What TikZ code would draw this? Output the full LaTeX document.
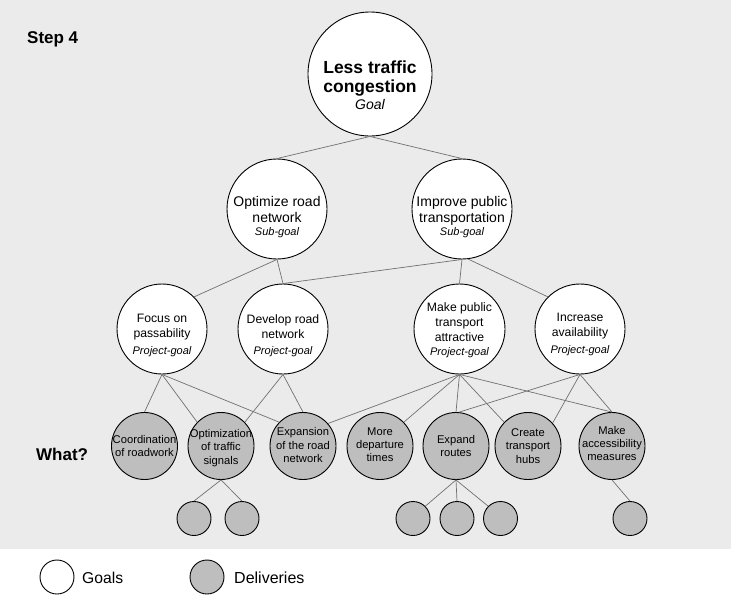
\documentclass[tikz,border=0pt]{standalone}
\usepackage{fontspec}
\setmainfont{Liberation Sans}
\usetikzlibrary{shapes.geometric}
\definecolor{bgc}{HTML}{EBEBEB}
\definecolor{delc}{HTML}{BEBEBE}
\definecolor{linec}{HTML}{707070}
\tikzset{
  goal/.style={ellipse, draw=black, line width=0.9pt, fill=white, inner sep=0pt},
  deliv/.style={ellipse, draw=black, line width=0.9pt, fill=delc, inner sep=0pt},
  conn/.style={draw=linec, line width=0.7pt},
  txt/.style={align=center, inner sep=0pt},
  ttop/.style={txt, font=\fontsize{17.5}{19.4}\selectfont},
  tsub/.style={txt, font=\fontsize{14}{16}\selectfont},
  tproj/.style={txt, font=\fontsize{12.2}{15}\selectfont},
  tdel/.style={txt, font=\fontsize{11.2}{13.3}\selectfont},
}
\newcommand{\gsub}[1]{{\fontsize{11}{11}\selectfont\itshape #1}}
\begin{document}
\begin{tikzpicture}[x=1pt,y=-1pt]
\useasboundingbox (0,0) rectangle (731,600);
\fill[bgc] (0,0) rectangle (731,549);

% goals
\node[goal, minimum width=124pt, minimum height=124pt] (top) at (370,74) {};
\node[goal, minimum width=100pt, minimum height=100pt] (opt) at (277,209) {};
\node[goal, minimum width=100pt, minimum height=100pt] (imp) at (462,209) {};
\node[goal, minimum width=90pt, minimum height=90pt] (focus) at (162,329) {};
\node[goal, minimum width=90pt, minimum height=90pt] (dev) at (283,329) {};
\node[goal, minimum width=91pt, minimum height=90pt] (make) at (459.5,329) {};
\node[goal, minimum width=90pt, minimum height=90pt] (inc) at (580,329) {};

% deliveries
\node[deliv, minimum width=66pt, minimum height=67pt] (coord) at (144.5,446) {};
\node[deliv, minimum width=66pt, minimum height=67pt] (optim) at (221,446) {};
\node[deliv, minimum width=66pt, minimum height=67pt] (expan) at (303,446) {};
\node[deliv, minimum width=66pt, minimum height=67pt] (more) at (380,446) {};
\node[deliv, minimum width=66pt, minimum height=67pt] (expand) at (456,446) {};
\node[deliv, minimum width=66pt, minimum height=67pt] (create) at (528,446) {};
\node[deliv, minimum width=66pt, minimum height=67pt] (access) at (612,446) {};

% small deliveries
\node[deliv, minimum width=34pt, minimum height=34pt] (s1) at (194,518.5) {};
\node[deliv, minimum width=34pt, minimum height=34pt] (s2) at (242,518.5) {};
\node[deliv, minimum width=34pt, minimum height=34pt] (s3) at (413,518.5) {};
\node[deliv, minimum width=34pt, minimum height=34pt] (s4) at (457,518.5) {};
\node[deliv, minimum width=34pt, minimum height=34pt] (s5) at (500.5,518.5) {};
\node[deliv, minimum width=34pt, minimum height=34pt] (s6) at (630,518.5) {};

% connectors
\path[conn] (top.south) -- (opt.north);
\path[conn] (top.south) -- (imp.north);
\path[conn] (opt.south) -- (focus.45);
\path[conn] (opt.south) -- (dev.north);
\path[conn] (imp.south) -- (dev.north);
\path[conn] (imp.south) -- (make.north);
\path[conn] (imp.-83) -- (inc.135);
\path[conn] (focus.south) -- (coord.north);
\path[conn] (focus.south) -- (optim.135);
\path[conn] (focus.south) -- (expan.135);
\path[conn] (dev.south) -- (optim.45);
\path[conn] (dev.south) -- (expan.north);
\path[conn] (make.south) -- (expan.42);
\path[conn] (make.south) -- (more.45);
\path[conn] (make.south) -- (expand.north);
\path[conn] (make.south) -- (create.135);
\path[conn] (make.south) -- (access.north);
\path[conn] (inc.south) -- (expand.85);
\path[conn] (inc.south) -- (create.43);
\path[conn] (inc.south) -- (access.north);
\path[conn] (optim.south) -- (s1.north);
\path[conn] (optim.south) -- (s2.north);
\path[conn] (expand.south) -- (s3.45);
\path[conn] (expand.south) -- (s4.north);
\path[conn] (expand.south) -- (s5.135);
\path[conn] (access.south) -- (s6.north);

% texts
\node[ttop] (ttopn) at (370,85) {\bfseries Less traffic\\ \bfseries congestion\\[-3pt] {\fontsize{14}{14}\selectfont\itshape Goal}};
\node[tsub] (topt) at (277,217) {Optimize road\\network\\[-3.5pt]\gsub{Sub-goal}};
\node[tsub] (timp) at (462,217) {Improve public\\transportation\\[-3.5pt]\gsub{Sub-goal}};
\node[tproj] (tfocus) at (162,335.5) {Focus on\\passability\\[1.5pt]\gsub{Project-goal}};
\node[tproj] (tdev) at (283,335.5) {Develop road\\network\\[0.5pt]\gsub{Project-goal}};
\node[tproj] (tmake) at (459.5,330.3) {Make public\\transport\\attractive\\[-1.7pt]\gsub{Project-goal}};
\node[tproj] (tinc) at (580,334.6) {Increase\\availability\\[2.3pt]\gsub{Project-goal}};

\node[tdel] (tcoord) at (144.5,446) {Coordination\\of roadwork};
\node[tdel] (toptim) at (221,448) {Optimization\\of traffic\\signals};
\node[tdel] (texpan) at (303,445) {Expansion\\of the road\\network};
\node[tdel] (tmore) at (380,444.5) {More\\departure\\times};
\node[tdel] (texpand) at (456,446) {Expand\\routes};
\node[tdel] (tcreate) at (528,446) {Create\\transport\\hubs};
\node[tdel] (taccess) at (612,443.5) {Make\\accessibility\\measures};

% labels
\node[anchor=base west, inner sep=0pt, font=\fontsize{17}{17}\selectfont\bfseries] (step) at (27,43) {Step 4};
\node[anchor=base west, inner sep=0pt, font=\fontsize{17}{17}\selectfont\bfseries] (what) at (36,460) {What?};

% legend
\node[goal, minimum width=34pt, minimum height=34pt] (lgoal) at (57,577) {};
\node[deliv, minimum width=34pt, minimum height=34pt] (ldel) at (207,577) {};
\node[anchor=base west, inner sep=0pt, font=\fontsize{15.7}{16}\selectfont] (lgoalt) at (82,583) {Goals};
\node[anchor=base west, inner sep=0pt, font=\fontsize{16}{16}\selectfont] (ldelt) at (234,583) {Deliveries};
\end{tikzpicture}
\end{document}
